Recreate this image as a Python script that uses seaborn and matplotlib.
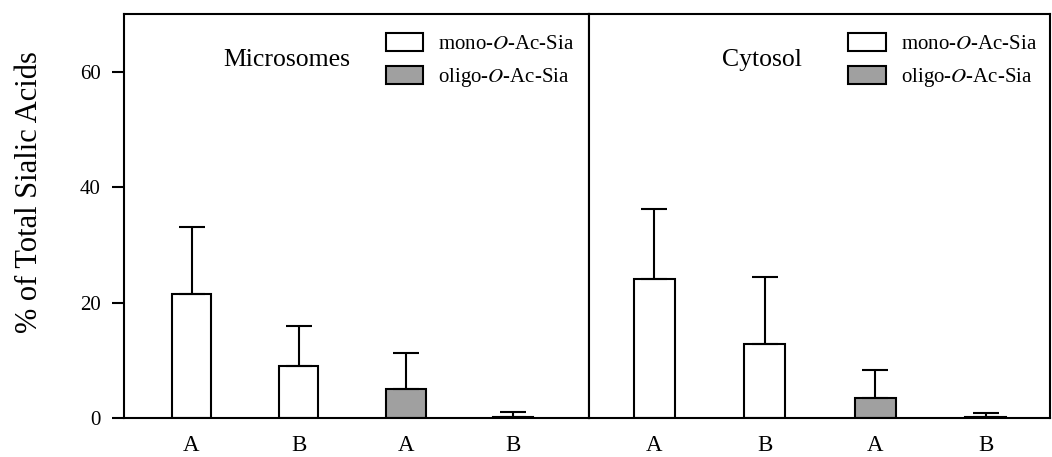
import matplotlib
matplotlib.use("Agg")
import matplotlib.pyplot as plt
import matplotlib.patches as mpatches
import numpy as np
import pandas as pd
import seaborn as sns

# Chart values
groups = ["mono A", "mono B", "oligo A", "oligo B"]
tick_labels = ["A", "B", "A", "B"]
kinds = ["mono", "mono", "oligo", "oligo"]
kind_labels = ["mono-$\\it{O}$-Ac-Sia", "oligo-$\\it{O}$-Ac-Sia"]
micro_mean = [21.5, 9.0, 5.0, 0.2]
micro_err = [11.6, 6.9, 6.2, 0.8]
cyto_mean = [24.1, 12.8, 3.5, 0.1]
cyto_err = [12.1, 11.6, 4.9, 0.8]
panel_titles = ["Microsomes", "Cytosol"]
y_ticks = [0, 20, 40, 60]

sns.set_style("ticks")
plt.rcParams["font.family"] = ["Liberation Serif", "DejaVu Serif"]
plt.rcParams["mathtext.fontset"] = "stix"
for key in ["text.color", "axes.labelcolor", "xtick.color", "ytick.color"]:
    plt.rcParams[key] = "black"

colors = {"mono": "white", "oligo": "#a0a0a0"}
lw = 1.5

fig, axs = plt.subplots(1, 2, sharey=True, figsize=(10.52, 4.57), dpi=100,
                        gridspec_kw={"width_ratios": [465, 461]})
fig.subplots_adjust(left=0.1179, right=0.998, bottom=0.0853, top=0.9694, wspace=0)

panels = [(micro_mean, micro_err, (-0.63, 3.71), 0.213),
          (cyto_mean, cyto_err, (-0.59, 3.58), 0.289)]

for ax, (means, errs, xlim, tx), title in zip(axs, panels, panel_titles):
    df = pd.DataFrame({"group": groups, "value": means, "kind": kinds})
    sns.barplot(data=df, x="group", y="value", hue="kind", order=groups,
                palette=colors, width=0.37, dodge=False, legend=False,
                edgecolor="black", linewidth=lw, ax=ax)
    # upper error bars only
    ax.errorbar(np.arange(len(groups)), means, yerr=[np.zeros(len(errs)), errs],
                fmt="none", ecolor="black", elinewidth=lw, capsize=9.4,
                capthick=lw, zorder=3)
    ax.set_xlim(*xlim)
    ax.set_ylim(0, 70)
    ax.set_xticks(range(len(groups)))
    ax.set_xticklabels(tick_labels, fontsize=16.5)
    ax.tick_params(axis="x", length=0, pad=12.5)
    ax.set_xlabel("")
    ax.set_ylabel("")
    for s in ax.spines.values():
        s.set_visible(True)
        s.set_linewidth(lw)
        s.set_color("black")
    ax.text(tx, 0.871, title, transform=ax.transAxes, fontsize=18.5,
            ha="left", va="baseline")
    handles = [mpatches.Patch(facecolor=colors[k], edgecolor="black", linewidth=lw)
               for k in ["mono", "oligo"]]
    ax.legend(handles, kind_labels, loc="upper left", bbox_to_anchor=(0.563, 0.953),
              frameon=False, fontsize=15, borderpad=0, borderaxespad=0,
              handlelength=1.8, handleheight=0.95, handletextpad=0.7,
              labelspacing=0.55)

axs[0].set_yticks(y_ticks)
axs[0].tick_params(axis="y", labelsize=15, length=9, width=lw, pad=8, direction="out")
axs[1].tick_params(axis="y", left=False, labelleft=False)
axs[0].set_ylabel("% of Total Sialic Acids", fontsize=22)
axs[0].yaxis.set_label_coords(-0.172, 0.559)

fig.savefig("out.png", dpi=100)
